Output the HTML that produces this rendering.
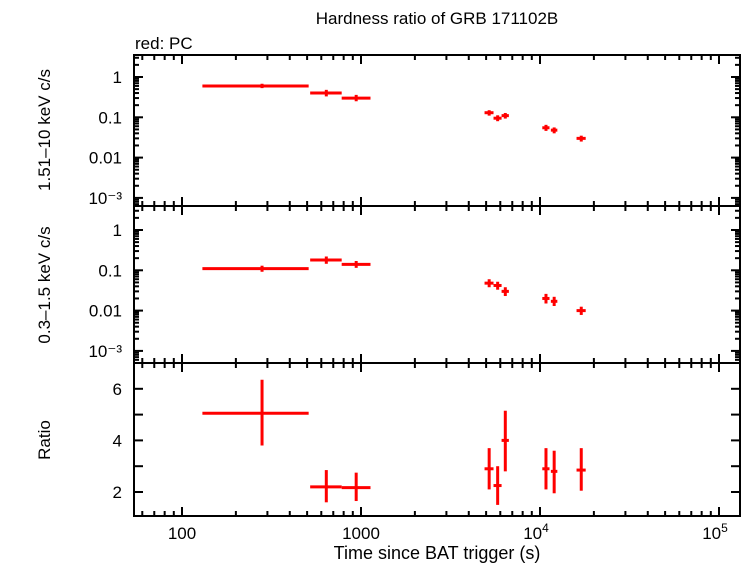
<!DOCTYPE html>
<html><head><meta charset="utf-8"><style>
body{margin:0;background:#fff}
text{font-family:"Liberation Sans",sans-serif;fill:#000}
</style></head><body>
<svg id="c" width="746" height="566" xmlns="http://www.w3.org/2000/svg">
<text x="437" y="24" font-size="17" text-anchor="middle">Hardness ratio of GRB 171102B</text>
<text x="135" y="49" font-size="17">red: PC</text>
<text x="437" y="559" font-size="18" text-anchor="middle">Time since BAT trigger (s)</text>
<text transform="translate(50,130) rotate(-90)" font-size="17" text-anchor="middle">1.51–10 keV c/s</text>
<text transform="translate(50,285) rotate(-90)" font-size="17" text-anchor="middle">0.3–1.5 keV c/s</text>
<text transform="translate(50,440) rotate(-90)" font-size="17" text-anchor="middle">Ratio</text>
<g id="g"></g>
</svg>
<script>
const tMid=[280,640,940,5200,5800,6400,10800,12000,17000];
const tLo=[130,520,780,4900,5500,6100,10300,11500,16000];
const tHi=[510,780,1130,5500,6100,6700,11300,12500,18000];
const hard=[0.6,0.4,0.3,0.13,0.095,0.11,0.055,0.048,0.03];
const hardLo=[0.53,0.33,0.25,0.11,0.08,0.093,0.046,0.04,0.025];
const hardHi=[0.68,0.48,0.36,0.15,0.112,0.128,0.065,0.056,0.035];
const soft=[0.11,0.18,0.14,0.048,0.042,0.03,0.02,0.017,0.01];
const softLo=[0.092,0.145,0.115,0.038,0.033,0.023,0.015,0.013,0.0078];
const softHi=[0.13,0.22,0.17,0.06,0.052,0.038,0.026,0.022,0.0125];
const ratio=[5.05,2.2,2.17,2.9,2.25,4.0,2.9,2.8,2.85];
const ratioLo=[3.8,1.6,1.65,2.1,1.5,2.8,2.1,1.95,2.05];
const ratioHi=[6.35,2.85,2.75,3.7,3.0,5.15,3.7,3.6,3.7];
const logTickLabels=["1","0.1","0.01","10⁻³"];
const ratioTicks=[2,4,6];

const L=134,R=740;
const X=v=>182+(Math.log10(v)-2)*179;
const xMin=Math.pow(10,2+(L-182)/179), xMax=Math.pow(10,2+(R-182)/179);
const g=document.getElementById('g');
const NS='http://www.w3.org/2000/svg';
function el(t,a){const e=document.createElementNS(NS,t);for(const k in a)e.setAttribute(k,a[k]);g.appendChild(e);return e;}
const panels=[
 {top:55,bot:206,Y:v=>77-Math.log10(v)*40.3,log:true,vals:hard,lo:hardLo,hi:hardHi,name:'hard'},
 {top:206,bot:363,Y:v=>230-Math.log10(v)*40.3,log:true,vals:soft,lo:softLo,hi:softHi,name:'soft'},
 {top:363,bot:516,Y:v=>492-(v-2)*25.8,log:false,vals:ratio,lo:ratioLo,hi:ratioHi,name:'ratio'}
];
panels.forEach(p=>{
 let r=el('rect',{x:L,y:p.top,width:R-L,height:p.bot-p.top,fill:'none',stroke:'#000','stroke-width':2});
 
 
 for(let d=1;d<=5;d++)for(let m=1;m<10;m++){const v=m*Math.pow(10,d);if(v<xMin||v>xMax)continue;const x=X(v);const len=m==1?9:5;
  el('line',{x1:x,x2:x,y1:p.bot,y2:p.bot-len,stroke:'#000','stroke-width':2});
  el('line',{x1:x,x2:x,y1:p.top,y2:p.top+len,stroke:'#000','stroke-width':2});}
 if(p.log){
  for(let d=-4;d<=1;d++)for(let m=1;m<10;m++){const v=m*Math.pow(10,d);const y=p.Y(v);if(y<p.top||y>p.bot)continue;const len=m==1?9:5;
   el('line',{x1:L,x2:L+len,y1:y,y2:y,stroke:'#000','stroke-width':2});
   el('line',{x1:R,x2:R-len,y1:y,y2:y,stroke:'#000','stroke-width':2});}
  logTickLabels.forEach((s,i)=>{const t=el('text',{x:122,y:p.Y(Math.pow(10,-i))+6,'font-size':17,'text-anchor':'end'});t.textContent=s;
   
   });
 } else {
  for(let v=2;v<=6;v++){const y=p.Y(v);
   el('line',{x1:L,x2:L+9,y1:y,y2:y,stroke:'#000','stroke-width':2});
   el('line',{x1:R,x2:R-9,y1:y,y2:y,stroke:'#000','stroke-width':2});}
  ratioTicks.forEach(v=>{const t=el('text',{x:122,y:p.Y(v)+6,'font-size':17,'text-anchor':'end'});t.textContent=v;
   
   });
 }
 tMid.forEach((t,i)=>{
  const y=p.Y(p.vals[i]);
  const h=el('line',{x1:X(tLo[i]),x2:X(tHi[i]),y1:y,y2:y,stroke:'#f00','stroke-width':3});
  
  
  const v=el('line',{x1:X(t),x2:X(t),y1:p.Y(p.lo[i]),y2:p.Y(p.hi[i]),stroke:'#f00','stroke-width':3});
  
  
 });
});
[["100",2],["1000",3]].forEach(([s,d])=>{const t=el('text',{x:X(Math.pow(10,d)),y:539,'font-size':17,'text-anchor':'middle'});t.textContent=s;
 
 });
[4,5].forEach(d=>{const t=el('text',{x:X(Math.pow(10,d))-4,y:539,'font-size':17,'text-anchor':'middle'});t.innerHTML='10<tspan font-size="12" dy="-7">'+d+'</tspan>';
 
 });
</script>
</body></html>
